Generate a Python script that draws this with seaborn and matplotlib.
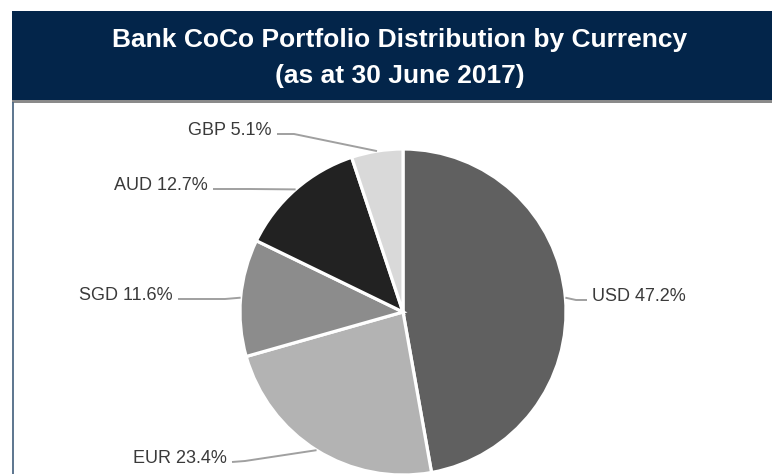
import matplotlib
matplotlib.use("Agg")
import matplotlib.pyplot as plt
from matplotlib.patches import Rectangle
import numpy as np
import seaborn as sns

# ---- data ----
currencies = ["USD", "EUR", "SGD", "AUD", "GBP"]
shares = [47.2, 23.4, 11.6, 12.7, 5.1]
slice_colors = ["#606060", "#b3b3b3", "#8c8c8c", "#222222", "#d9d9d9"]
title_lines = ["Bank CoCo Portfolio Distribution by Currency", "(as at 30 June 2017)"]

# ---- layout (pixel coords, y from top) ----
W, H = 772, 474
CENTER = (403, 312)
RADIUS = 163
# per-label: (elbow point, line end near text, side)
label_layout = {
    "USD": ((576, 300), (587, 300), "left"),
    "EUR": ((245, 461), (232, 462), "right"),
    "SGD": ((225, 299), (178, 299), "right"),
    "AUD": ((250, 189), (213, 189), "right"),
    "GBP": ((294, 134), (277, 134), "right"),
}

sns.set_theme(style="white")
plt.rcParams["font.family"] = ["Liberation Sans", "DejaVu Sans"]

fig = plt.figure(figsize=(W / 100, H / 100), dpi=100)
fig.patch.set_facecolor("white")
ax = fig.add_axes([0, 0, 1, 1])


def py(y):
    return H - y


# title bar and frame
ax.add_patch(Rectangle((12, py(100)), W - 12, 89, facecolor="#03254a",
                       edgecolor="none", zorder=1))
ax.add_patch(Rectangle((12, py(102.5)), W - 12, 2.5, facecolor="#8a8a8a",
                       edgecolor="none", zorder=1))
ax.plot([13, 13], [py(102), py(H + 2)], color="#4f6a86", lw=1.3, zorder=1,
        solid_capstyle="butt")

ax.text(400, py(40), title_lines[0], color="white", fontsize=19,
        fontweight="bold", ha="center", va="center", zorder=3)
ax.text(400, py(76), title_lines[1], color="white", fontsize=19,
        fontweight="bold", ha="center", va="center", zorder=3)

wedges, _ = ax.pie(shares, colors=slice_colors, startangle=90,
                   counterclock=False, center=(CENTER[0], py(CENTER[1])),
                   radius=RADIUS,
                   wedgeprops=dict(edgecolor="white", linewidth=2.3),
                   frame=True)

for name, share, w in zip(currencies, shares, wedges):
    mid = np.deg2rad((w.theta1 + w.theta2) / 2)
    ex = CENTER[0] + RADIUS * np.cos(mid)
    ey = py(CENTER[1]) + RADIUS * np.sin(mid)
    (bx, by), (tx, ty), ha = label_layout[name]
    ax.plot([ex, bx, tx], [ey, py(by), py(ty)], color="#a0a0a0", lw=1.4,
            zorder=2, solid_capstyle="butt")
    off = 5 if ha == "left" else -5
    ax.text(tx + off, py(ty) - 1, f"{name} {share:.1f}%", color="#3a3a3a",
            fontsize=13, ha=ha, va="baseline", zorder=3)

ax.set_xlim(0, W)
ax.set_ylim(0, H)
ax.set_aspect("auto")
ax.axis("off")

fig.savefig("out.png", dpi=100, facecolor="white")
